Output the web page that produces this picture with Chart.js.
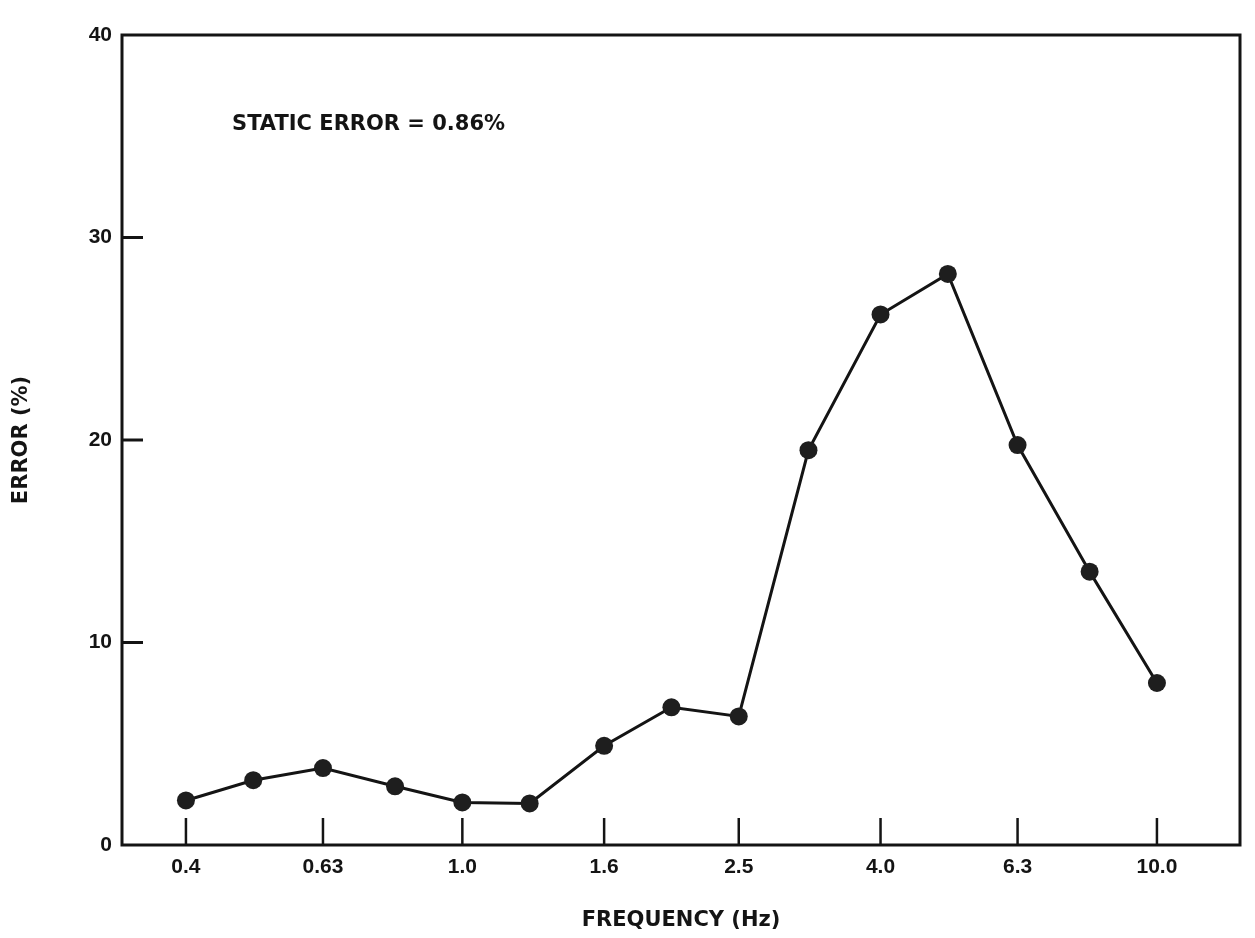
<!DOCTYPE html>
<html>
<head>
<meta charset="utf-8">
<title>Error vs Frequency</title>
<script src="https://cdn.jsdelivr.net/npm/chart.js@4.4.1/dist/chart.umd.min.js"></script>
<style>
  html, body { margin: 0; padding: 0; background: #ffffff; }
  canvas { display: block; }
</style>
</head>
<body>
<canvas id="chart" width="1255" height="938"></canvas>
<script>
// Measured error at each test frequency (Hz, one-third octave steps)
const frequencies = [0.4, 0.5, 0.63, 0.8, 1.0, 1.25, 1.6, 2.0, 2.5, 3.15, 4.0, 5.0, 6.3, 8.0, 10.0];
const errorPercent = [2.2, 3.2, 3.8, 2.9, 2.1, 2.05, 4.9, 6.8, 6.35, 19.5, 26.2, 28.2, 19.75, 13.5, 8.0];

// Labelled frequency ticks
const freqTickValues = [0.4, 0.63, 1.0, 1.6, 2.5, 4.0, 6.3, 10.0];
const freqTickLabels = ['0.4', '0.63', '1.0', '1.6', '2.5', '4.0', '6.3', '10.0'];

// Error axis ticks
const errorTickValues = [0, 10, 20, 30, 40];

const noteText = 'STATIC ERROR = 0.86%';

const INK = '#141414';
const tickFont = { family: '"Liberation Sans", Arial, sans-serif', size: 21, weight: 'bold' };
const titleFont = { family: '"DejaVu Sans", sans-serif', size: 21, weight: 'bold' };

// Draws the boxed frame, inward tick marks and the static-error note
const framePlugin = {
  id: 'frame',
  beforeDatasetsDraw(chart) {
    const { ctx, chartArea: a, scales } = chart;
    ctx.save();
    ctx.strokeStyle = INK;
    ctx.lineWidth = 3;
    ctx.lineJoin = 'miter';
    ctx.strokeRect(a.left, a.top, a.right - a.left, a.bottom - a.top);

    // frequency ticks rise from the bottom edge
    ctx.lineWidth = 2.5;
    freqTickValues.forEach(v => {
      const x = scales.x.getPixelForValue(v);
      ctx.beginPath();
      ctx.moveTo(x, a.bottom);
      ctx.lineTo(x, a.bottom - 27);
      ctx.stroke();
    });

    // error ticks point inward from the left edge
    ctx.lineWidth = 3;
    errorTickValues.slice(1, -1).forEach(v => {
      const y = scales.y.getPixelForValue(v);
      ctx.beginPath();
      ctx.moveTo(a.left, y);
      ctx.lineTo(a.left + 21, y);
      ctx.stroke();
    });
    ctx.restore();
  },
  afterDraw(chart) {
    const { ctx, scales } = chart;
    ctx.save();
    ctx.fillStyle = INK;
    ctx.font = `${titleFont.weight} ${titleFont.size}px ${titleFont.family}`;
    ctx.textAlign = 'left';
    ctx.textBaseline = 'alphabetic';
    ctx.fillText(noteText, scales.x.getPixelForValue(0.466), scales.y.getPixelForValue(35.3));
    ctx.restore();
  }
};

new Chart(document.getElementById('chart'), {
  type: 'line',
  data: {
    datasets: [{
      label: 'Error',
      data: frequencies.map((f, i) => ({ x: f, y: errorPercent[i] })),
      borderColor: INK,
      borderWidth: 3,
      backgroundColor: '#1e1e1e',
      pointBackgroundColor: '#1e1e1e',
      pointBorderWidth: 0,
      pointRadius: 9,
      tension: 0,
      fill: false,
      clip: false
    }]
  },
  options: {
    responsive: false,
    animation: false,
    layout: { padding: { top: 35, right: 15, left: 0, bottom: 0 } },
    plugins: {
      legend: { display: false },
      tooltip: { enabled: false }
    },
    scales: {
      x: {
        type: 'logarithmic',
        position: 'bottom',
        bounds: 'data',
        min: 0.3236,
        max: 13.17,
        grid: { display: false, drawTicks: false },
        border: { display: false },
        afterBuildTicks(scale) {
          scale.ticks = freqTickValues.map(v => ({ value: v }));
        },
        afterFit(scale) { scale.height = 93; },
        ticks: {
          autoSkip: false,
          maxRotation: 0,
          padding: 10,
          color: INK,
          font: tickFont,
          callback: (value, index) => freqTickLabels[index]
        },
        title: {
          display: true,
          text: 'FREQUENCY (Hz)',
          color: INK,
          font: titleFont,
          padding: { top: 0, bottom: 5 }
        }
      },
      y: {
        type: 'linear',
        min: 0,
        max: 40,
        grid: { display: false, drawTicks: false },
        border: { display: false },
        afterBuildTicks(scale) {
          scale.ticks = errorTickValues.map(v => ({ value: v }));
        },
        afterFit(scale) { scale.width = 122; },
        ticks: {
          padding: 10,
          color: INK,
          font: tickFont
        },
        title: {
          display: true,
          text: 'ERROR (%)',
          color: INK,
          font: titleFont,
          padding: { top: 9, bottom: 0 }
        }
      }
    }
  },
  plugins: [framePlugin]
});
</script>
</body>
</html>
